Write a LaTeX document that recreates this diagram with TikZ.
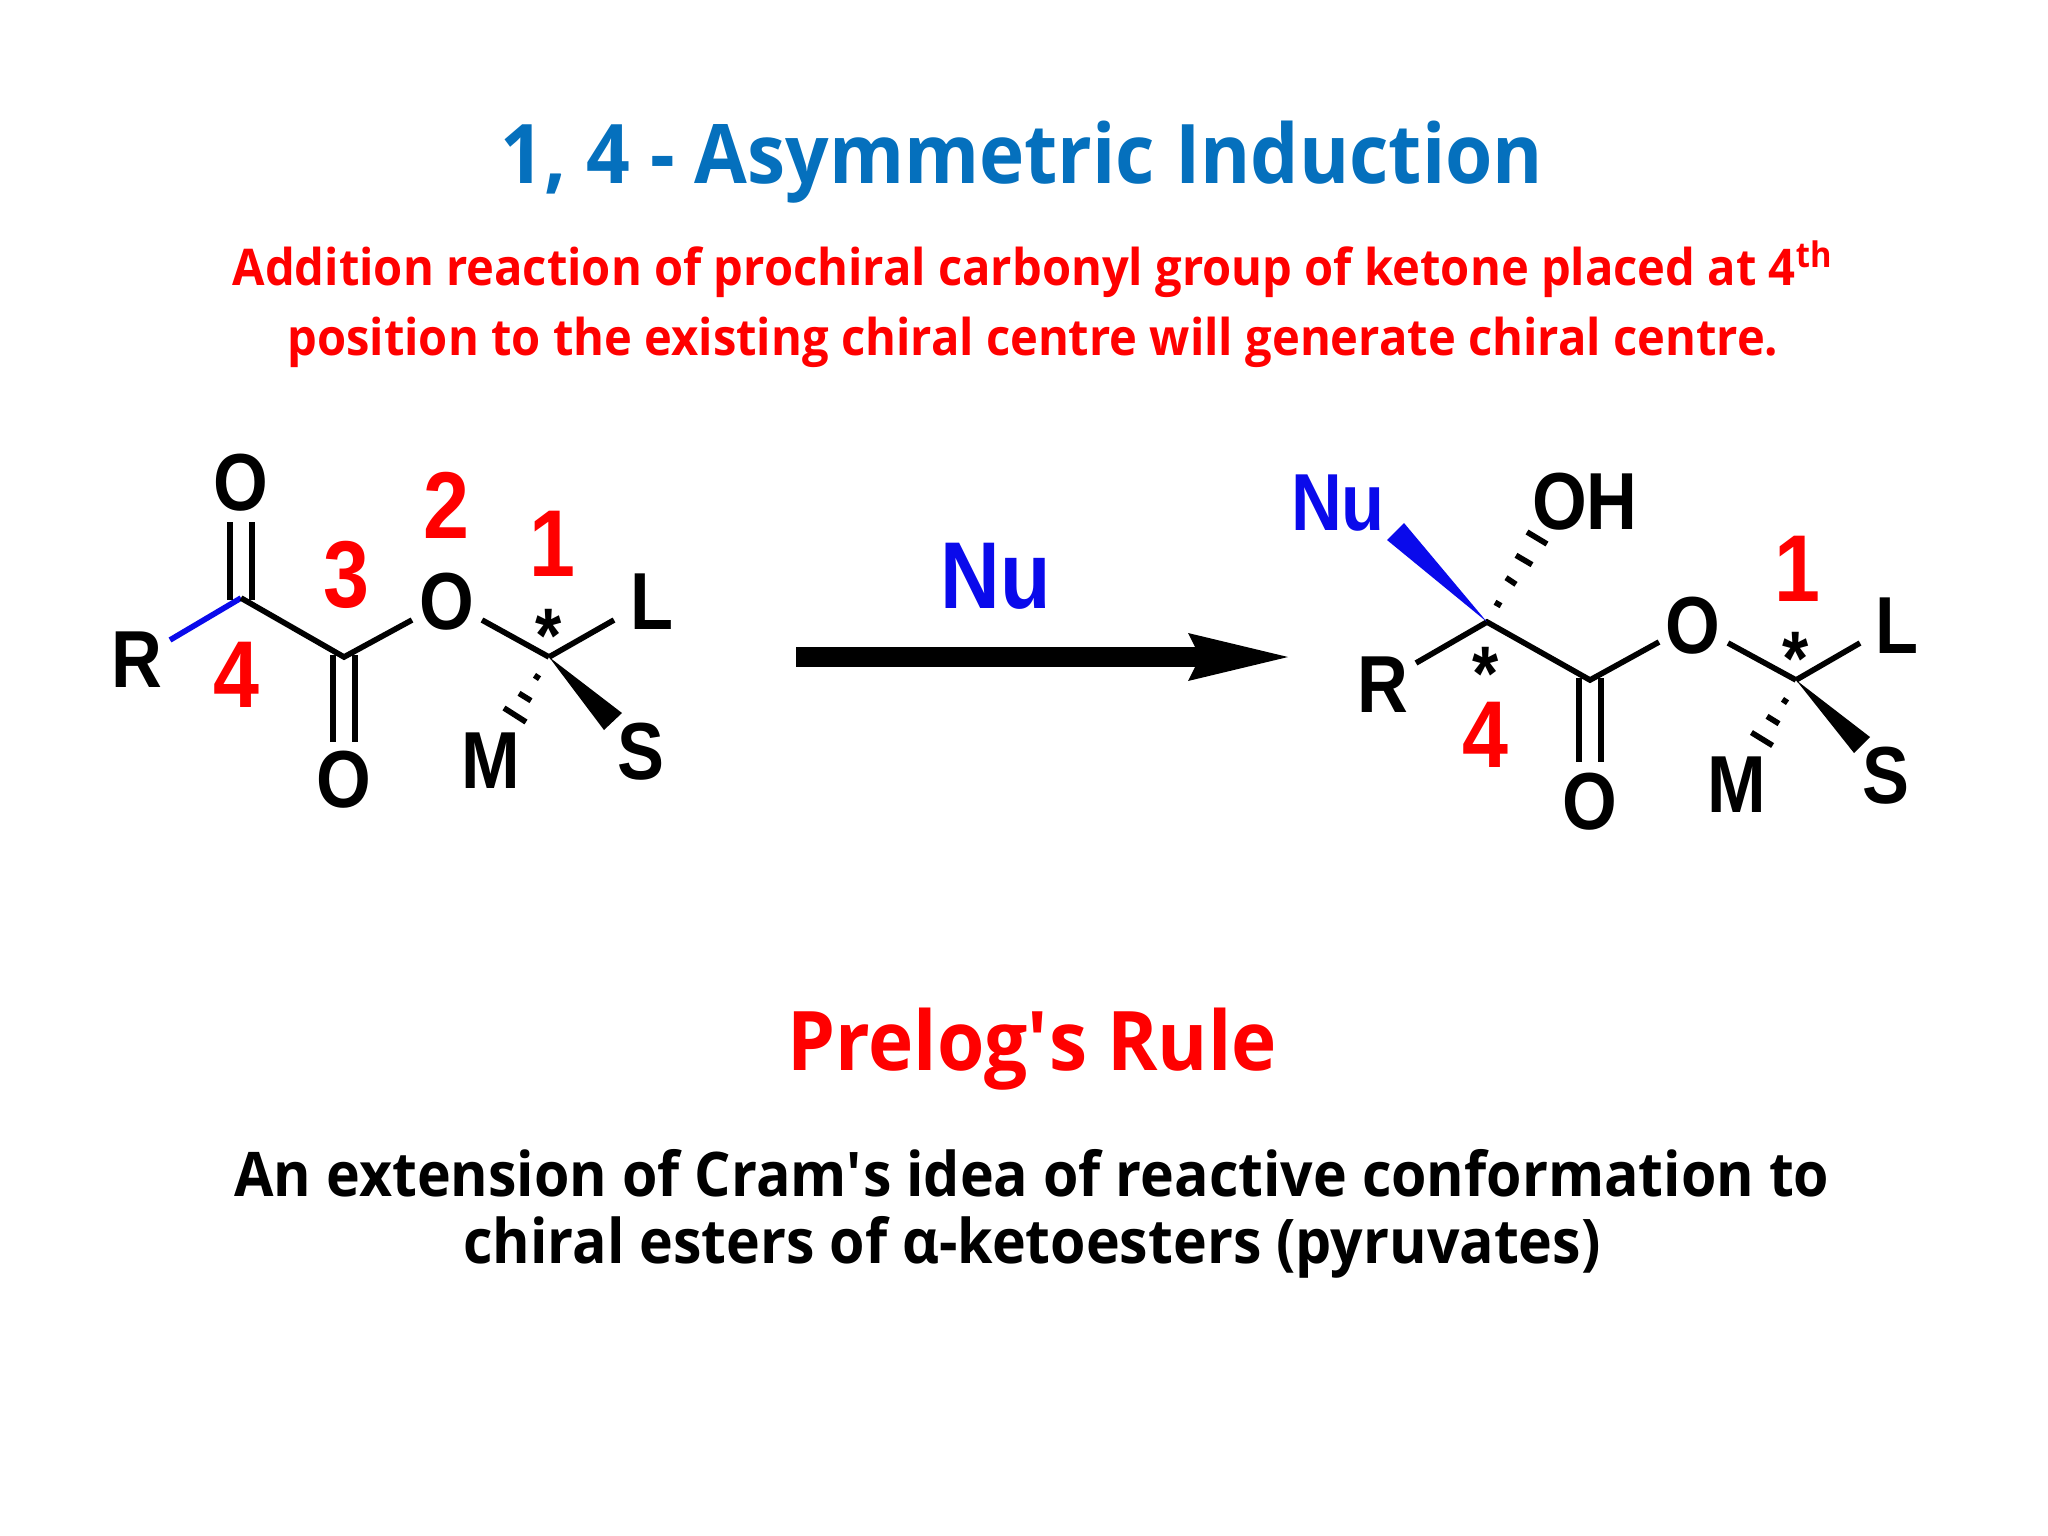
\documentclass[tikz,border=0pt]{standalone}
\usepackage{fontspec}
\setmainfont{Open Sans}[BoldFont={Open Sans Bold},FakeStretch=0.93]
\newfontfamily\chem[FakeStretch=0.87]{Liberation Sans}
\usetikzlibrary{calc}
\definecolor{tblue}{RGB}{5,112,189}
\definecolor{pblue}{RGB}{10,10,235}
\tikzset{
 x=0.01cm,y=-0.01cm,
 atom/.style={font=\chem\bfseries\fontsize{23}{23}\selectfont,inner sep=0pt,text=black},
 num/.style={font=\chem\bfseries\fontsize{27}{27}\selectfont,inner sep=0pt,text=red},
 star/.style={font=\chem\bfseries\fontsize{22}{22}\selectfont,inner sep=0pt},
 bond/.style={line width=1.6pt},
 hash/.style={line width=1.6pt},
 txt/.style={align=center,inner sep=0pt,font=\bfseries},
}
\begin{document}
\begin{tikzpicture}
\useasboundingbox (0,0) rectangle (2048,1536);
\fill[white] (0,0) rectangle (2048,1536);
\node[txt,text=tblue,font=\bfseries\fontsize{23.4}{28}\selectfont] (title) at (1022,162) {1, 4 - Asymmetric Induction};
\node[txt,text=red,font=\bfseries\fontsize{14.4}{19.7}\selectfont] (sub) at (1033,304) {Addition reaction of prochiral carbonyl group of ketone placed at 4\textsuperscript{th}\\position to the existing chiral centre will generate chiral centre.};
\node[txt,text=red,font=\bfseries\fontsize{23.4}{28}\selectfont] (prelog) at (1032,1049) {Prelog\textquotesingle s Rule};
\node[txt,text=black,font=\bfseries\fontsize{17.5}{18.95}\selectfont] (ext) at (1032,1214) {An extension of Cram\textquotesingle s idea of reactive conformation to\\chiral esters of α-ketoesters (pyruvates)};
% left
\node[atom] (O1) at (241,483) {O};
\node[atom] (R1) at (137,660) {R};
\node[atom] (O2) at (344,780) {O};
\node[atom] (O3) at (447,602) {O};
\node[atom] (L1) at (652,602) {L};
\node[atom] (M1) at (491,761) {M};
\node[atom] (S1) at (641,752) {S};
\coordinate (C1) at (241,598);
\coordinate (C2) at (344,657);
\coordinate (C3) at (549,657);
\draw[bond,pblue] (170,640) -- (C1);
\draw[bond] (C1) -- (C2) -- (412,620);
\draw[bond] (C3) -- (482,620);
\draw[bond] (C3) -- (614,620);
\draw[bond] (230,600) -- (230,522);
\draw[bond] (252,600) -- (252,522);
\draw[bond] (333,655) -- (333,742);
\draw[bond] (355,655) -- (355,742);
\fill (C3) -- (622,713) -- (604,730) -- cycle;
\foreach \dx/\dy/\hx/\hy in {-12/20/2.5/1.7,-24/40/6/3.7,-34/58/11/7}
  \draw[hash] ($(C3)+(\dx-\hx,\dy-\hy)$) -- ($(C3)+(\dx+\hx,\dy+\hy)$);
\node[star] (st1) at (549,636) {*};
\node[num] (n4) at (236,675) {4};
\node[num] (n3) at (346,575) {3};
\node[num] (n2) at (446,505) {2};
\node[num] (n1) at (552,544) {1};
% arrow
\node[inner sep=0pt,font=\chem\bfseries\fontsize{27}{27}\selectfont,text=pblue] (nu) at (996,576) {Nu};
\coordinate (a1) at (796,657);
\coordinate (a2) at (1288,657);
\draw[line width=5.5pt] (a1) -- (1200,657);
\fill (a2) -- (1188,633) -- (1200,657) -- (1188,681) -- cycle;
% right
\node[atom,text=pblue] (Nu2) at (1338,503) {Nu};
\node[atom] (OH) at (1585,502) {OH};
\node[atom] (R2) at (1383,685) {R};
\node[atom] (O4) at (1590,802) {O};
\node[atom] (O5) at (1693,626) {O};
\node[atom] (L2) at (1897,626) {L};
\node[atom] (M2) at (1737,785) {M};
\node[atom] (S2) at (1886,776) {S};
\coordinate (C4) at (1487,622);
\coordinate (C5) at (1590,680);
\coordinate (C6) at (1796,680);
\draw[bond] (1416,663) -- (C4) -- (C5) -- (1659,642);
\draw[bond] (C6) -- (1728,643);
\draw[bond] (C6) -- (1860,643);
\draw[bond] (1579,678) -- (1579,762);
\draw[bond] (1601,678) -- (1601,762);
\fill[pblue] (C4) -- (1387,540) -- (1404,523) -- cycle;
\fill (C6) -- (1870,737) -- (1854,753) -- cycle;
\foreach \dx/\dy/\hx/\hy in {11/-18/3/1.7,24/-41/5/3.3,37/-62/8/4.7,50/-84/10/6}
  \draw[hash] ($(C4)+(\dx-\hx,\dy-\hy)$) -- ($(C4)+(\dx+\hx,\dy+\hy)$);
\foreach \dx/\dy/\hx/\hy in {-11/21/2.5/1.7,-23/40/6/3.7,-34/59/10.6/6.5}
  \draw[hash] ($(C6)+(\dx-\hx,\dy-\hy)$) -- ($(C6)+(\dx+\hx,\dy+\hy)$);
\node[star] (st2) at (1486,674) {*};
\node[star] (st3) at (1796,659) {*};
\node[num] (n5) at (1485,735) {4};
\node[num] (n6) at (1797,569) {1};
\end{tikzpicture}
\end{document}
